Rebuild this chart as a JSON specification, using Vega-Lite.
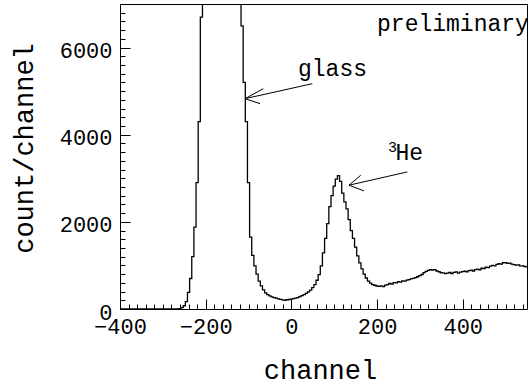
{
  "$schema": "https://vega.github.io/schema/vega-lite/v6.json",
  "autosize": {"type": "none"},
  "padding": {"left": 120, "top": 4, "right": 1, "bottom": 76},
  "width": 407,
  "height": 305,
  "background": "white",
  "config": {
    "view": {"stroke": "black", "strokeWidth": 1},
    "font": "Liberation Mono"
  },
  "resolve": {"axis": {"x": "independent", "y": "independent"}},
  "datasets": {
    "hist": [
      {"channel": -400, "count": 0}, {"channel": -395, "count": 0}, {"channel": -390, "count": 0}, {"channel": -385, "count": 0},
      {"channel": -380, "count": 0}, {"channel": -375, "count": 0}, {"channel": -370, "count": 0}, {"channel": -365, "count": 0},
      {"channel": -360, "count": 0}, {"channel": -355, "count": 0}, {"channel": -350, "count": 0}, {"channel": -345, "count": 0},
      {"channel": -340, "count": 0}, {"channel": -335, "count": 0}, {"channel": -330, "count": 0}, {"channel": -325, "count": 0},
      {"channel": -320, "count": 0}, {"channel": -315, "count": 0}, {"channel": -310, "count": 0}, {"channel": -305, "count": 0},
      {"channel": -300, "count": 0}, {"channel": -295, "count": 0}, {"channel": -290, "count": 0}, {"channel": -285, "count": 0},
      {"channel": -280, "count": 0}, {"channel": -275, "count": 0}, {"channel": -270, "count": 0}, {"channel": -265, "count": 2},
      {"channel": -260, "count": 8}, {"channel": -255, "count": 30}, {"channel": -250, "count": 75}, {"channel": -245, "count": 170},
      {"channel": -240, "count": 380}, {"channel": -235, "count": 700}, {"channel": -230, "count": 1200}, {"channel": -225, "count": 1880},
      {"channel": -220, "count": 2900}, {"channel": -215, "count": 4300}, {"channel": -210, "count": 6700}, {"channel": -205, "count": 8800},
      {"channel": -200, "count": 11000}, {"channel": -195, "count": 12400}, {"channel": -190, "count": 13100}, {"channel": -185, "count": 13600},
      {"channel": -180, "count": 13900}, {"channel": -175, "count": 14000}, {"channel": -170, "count": 13800}, {"channel": -165, "count": 13500},
      {"channel": -160, "count": 13100}, {"channel": -155, "count": 12600}, {"channel": -150, "count": 12000}, {"channel": -145, "count": 11300},
      {"channel": -140, "count": 10500}, {"channel": -135, "count": 9700}, {"channel": -130, "count": 8900}, {"channel": -125, "count": 8100},
      {"channel": -120, "count": 7300}, {"channel": -115, "count": 6500}, {"channel": -110, "count": 5200}, {"channel": -105, "count": 4300},
      {"channel": -100, "count": 2900}, {"channel": -95, "count": 1650}, {"channel": -90, "count": 1230}, {"channel": -85, "count": 990},
      {"channel": -80, "count": 800}, {"channel": -75, "count": 640}, {"channel": -70, "count": 530}, {"channel": -65, "count": 440},
      {"channel": -60, "count": 370}, {"channel": -55, "count": 330}, {"channel": -50, "count": 300}, {"channel": -45, "count": 280},
      {"channel": -40, "count": 262}, {"channel": -35, "count": 250}, {"channel": -30, "count": 232}, {"channel": -25, "count": 222},
      {"channel": -20, "count": 208}, {"channel": -15, "count": 200}, {"channel": -10, "count": 212}, {"channel": -5, "count": 218},
      {"channel": 0, "count": 226}, {"channel": 5, "count": 238}, {"channel": 10, "count": 250}, {"channel": 15, "count": 262},
      {"channel": 20, "count": 284}, {"channel": 25, "count": 306}, {"channel": 30, "count": 332}, {"channel": 35, "count": 360},
      {"channel": 40, "count": 392}, {"channel": 45, "count": 432}, {"channel": 50, "count": 492}, {"channel": 55, "count": 560},
      {"channel": 60, "count": 660}, {"channel": 65, "count": 790}, {"channel": 70, "count": 990}, {"channel": 75, "count": 1290},
      {"channel": 80, "count": 1620}, {"channel": 85, "count": 1960}, {"channel": 90, "count": 2350}, {"channel": 95, "count": 2600},
      {"channel": 100, "count": 2820}, {"channel": 105, "count": 2980}, {"channel": 110, "count": 3060}, {"channel": 115, "count": 2930},
      {"channel": 120, "count": 2660}, {"channel": 125, "count": 2460}, {"channel": 130, "count": 2300}, {"channel": 135, "count": 2050},
      {"channel": 140, "count": 1800}, {"channel": 145, "count": 1620}, {"channel": 150, "count": 1420}, {"channel": 155, "count": 1220},
      {"channel": 160, "count": 1060}, {"channel": 165, "count": 920}, {"channel": 170, "count": 800}, {"channel": 175, "count": 712},
      {"channel": 180, "count": 640}, {"channel": 185, "count": 592}, {"channel": 190, "count": 560}, {"channel": 195, "count": 545},
      {"channel": 200, "count": 528}, {"channel": 205, "count": 518}, {"channel": 210, "count": 530}, {"channel": 215, "count": 512},
      {"channel": 220, "count": 548}, {"channel": 225, "count": 560}, {"channel": 230, "count": 585}, {"channel": 235, "count": 572},
      {"channel": 240, "count": 605}, {"channel": 245, "count": 598}, {"channel": 250, "count": 626}, {"channel": 255, "count": 618},
      {"channel": 260, "count": 645}, {"channel": 265, "count": 638}, {"channel": 270, "count": 665}, {"channel": 275, "count": 672},
      {"channel": 280, "count": 690}, {"channel": 285, "count": 702}, {"channel": 290, "count": 722}, {"channel": 295, "count": 740},
      {"channel": 300, "count": 765}, {"channel": 305, "count": 792}, {"channel": 310, "count": 835}, {"channel": 315, "count": 862},
      {"channel": 320, "count": 885}, {"channel": 325, "count": 902}, {"channel": 330, "count": 895}, {"channel": 335, "count": 905},
      {"channel": 340, "count": 872}, {"channel": 345, "count": 855}, {"channel": 350, "count": 832}, {"channel": 355, "count": 828},
      {"channel": 360, "count": 812}, {"channel": 365, "count": 825}, {"channel": 370, "count": 838}, {"channel": 375, "count": 815},
      {"channel": 380, "count": 842}, {"channel": 385, "count": 852}, {"channel": 390, "count": 822}, {"channel": 395, "count": 846},
      {"channel": 400, "count": 858}, {"channel": 405, "count": 866}, {"channel": 410, "count": 850}, {"channel": 415, "count": 882},
      {"channel": 420, "count": 890}, {"channel": 425, "count": 872}, {"channel": 430, "count": 905}, {"channel": 435, "count": 915},
      {"channel": 440, "count": 898}, {"channel": 445, "count": 935}, {"channel": 450, "count": 930}, {"channel": 455, "count": 958},
      {"channel": 460, "count": 948}, {"channel": 465, "count": 985}, {"channel": 470, "count": 1002}, {"channel": 475, "count": 990},
      {"channel": 480, "count": 1025}, {"channel": 485, "count": 1038}, {"channel": 490, "count": 1030}, {"channel": 495, "count": 1062},
      {"channel": 500, "count": 1065}, {"channel": 505, "count": 1048}, {"channel": 510, "count": 1052}, {"channel": 515, "count": 1028},
      {"channel": 520, "count": 1020}, {"channel": 525, "count": 1008}, {"channel": 530, "count": 1012}, {"channel": 535, "count": 990},
      {"channel": 540, "count": 992}, {"channel": 545, "count": 975}, {"channel": 550, "count": 968}
    ],
    "arrows": [
      {"x": -108.2, "y": 4827, "x2": 48.9, "y2": 5171},
      {"x": -108.2, "y": 4827, "x2": -65.5, "y2": 5056},
      {"x": -108.2, "y": 4827, "x2": -73.2, "y2": 4713},
      {"x": 134.5, "y": 2841, "x2": 270.6, "y2": 3146},
      {"x": 134.5, "y": 2841, "x2": 161.9, "y2": 3070},
      {"x": 134.5, "y": 2841, "x2": 169.6, "y2": 2710}
    ],
    "labels": [
      {"x": 200, "y": 6369, "text": "preliminary"},
      {"x": 15.5, "y": 5338, "text": "glass"},
      {"x": 243, "y": 3413, "text": "He"}
    ],
    "sup": [
      {"x": 225.6, "y": 3597, "text": "3"}
    ]
  },
  "layer": [
    {
      "data": {"name": "hist"},
      "mark": {"type": "line", "interpolate": "step", "color": "black", "strokeWidth": 1.3, "clip": true},
      "encoding": {
        "x": {
          "field": "channel", "type": "quantitative",
          "scale": {"domain": [-400, 550], "nice": false, "zero": false},
          "axis": {
            "orient": "bottom",
            "offset": -10,
            "domain": false,
            "title": "channel",
            "titleFont": "Liberation Mono", "titleFontSize": 27, "titleFontWeight": "normal", "titleColor": "black",
            "titleX": 200, "titleY": 79, "titleAlign": "center", "titleBaseline": "alphabetic",
            "values": [-400, -200, 0, 200, 400],
            "format": "d",
            "tickSize": 10,
            "labelPadding": 24,
            "labelBaseline": "alphabetic",
            "labelFont": "Liberation Mono", "labelFontSize": 22, "labelColor": "black",
            "labelFlush": false, "labelOverlap": false,
            "tickColor": "black", "tickWidth": 1, "grid": false
          }
        },
        "y": {
          "field": "count", "type": "quantitative",
          "scale": {"domain": [0, 7000], "nice": false},
          "axis": {
            "orient": "left",
            "offset": -10,
            "domain": false,
            "title": "count/channel",
            "titleFont": "Liberation Mono", "titleFontSize": 27, "titleFontWeight": "normal", "titleColor": "black",
            "titleX": -98, "titleY": 144, "titleAngle": -90, "titleAlign": "center", "titleBaseline": "alphabetic",
            "values": [0, 2000, 4000, 6000],
            "format": "d",
            "tickSize": 10,
            "labelPadding": 8,
            "labelBaseline": "middle",
            "labelOffset": 3,
            "labelFont": "Liberation Mono", "labelFontSize": 22, "labelColor": "black",
            "labelFlush": false, "labelOverlap": false,
            "tickColor": "black", "tickWidth": 1, "grid": false
          }
        }
      }
    },
    {
      "data": {"name": "arrows"},
      "mark": {"type": "rule", "color": "black", "strokeWidth": 1},
      "encoding": {
        "x": {
          "field": "x", "type": "quantitative",
          "axis": {
            "orient": "bottom", "offset": -5, "title": null, "labels": false, "domain": false, "grid": false,
            "values": [-380,-360,-340,-320,-300,-280,-260,-240,-220,-180,-160,-140,-120,-100,-80,-60,-40,-20,20,40,60,80,100,120,140,160,180,220,240,260,280,300,320,340,360,380,420,440,460,480,500,520,540],
            "tickSize": 5, "tickColor": "black", "tickWidth": 1
          }
        },
        "y": {
          "field": "y", "type": "quantitative",
          "axis": {
            "orient": "left", "offset": -5, "title": null, "labels": false, "domain": false, "grid": false,
            "values": [200,400,600,800,1000,1200,1400,1600,1800,2200,2400,2600,2800,3000,3200,3400,3600,3800,4200,4400,4600,4800,5000,5200,5400,5600,5800,6200,6400,6600,6800],
            "tickSize": 5, "tickColor": "black", "tickWidth": 1
          }
        },
        "x2": {"field": "x2"},
        "y2": {"field": "y2"}
      }
    },
    {
      "data": {"name": "labels"},
      "mark": {"type": "text", "align": "left", "baseline": "alphabetic", "font": "Liberation Mono", "fontSize": 23, "color": "black"},
      "encoding": {
        "x": {"field": "x", "type": "quantitative", "axis": null},
        "y": {"field": "y", "type": "quantitative", "axis": null},
        "text": {"field": "text"}
      }
    },
    {
      "data": {"name": "sup"},
      "mark": {"type": "text", "align": "left", "baseline": "alphabetic", "font": "Liberation Mono", "fontSize": 15, "color": "black"},
      "encoding": {
        "x": {"field": "x", "type": "quantitative", "axis": null},
        "y": {"field": "y", "type": "quantitative", "axis": null},
        "text": {"field": "text"}
      }
    }
  ]
}
